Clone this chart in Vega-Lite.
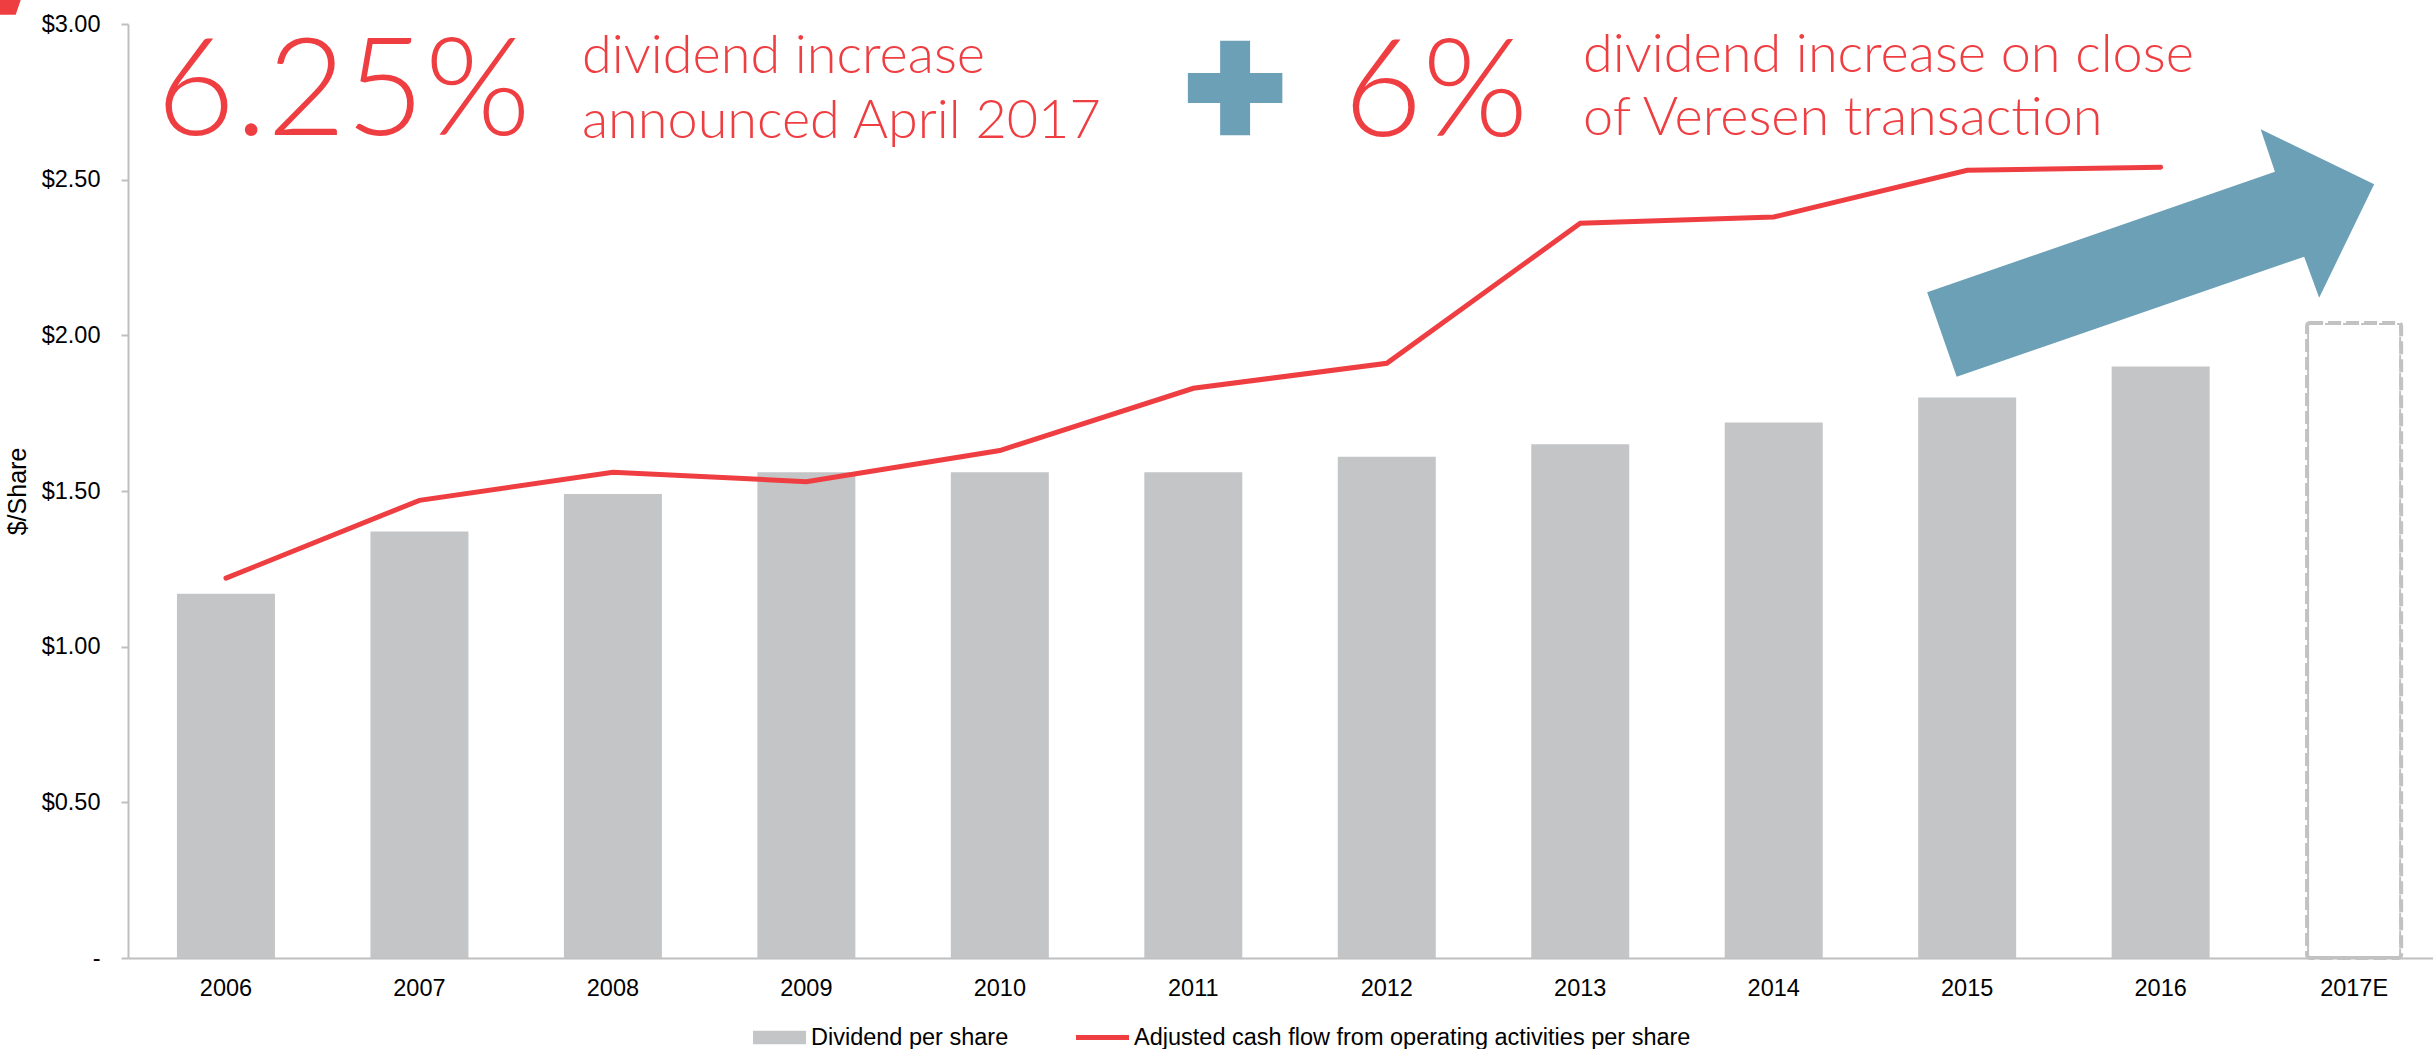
{
  "$schema": "https://vega.github.io/schema/vega-lite/v6.json",
  "width": 2305,
  "height": 934,
  "autosize": {"type": "none"},
  "padding": {"left": 128, "top": 24, "right": 0, "bottom": 91},
  "background": "white",
  "config": {"view": {"stroke": null}, "font": "Liberation Sans"},
  "datasets": {
    "annual": [
      {"period": "2006", "dividend": 1.17, "cashflow": 1.22},
      {"period": "2007", "dividend": 1.37, "cashflow": 1.47},
      {"period": "2008", "dividend": 1.49, "cashflow": 1.56},
      {"period": "2009", "dividend": 1.56, "cashflow": 1.53},
      {"period": "2010", "dividend": 1.56, "cashflow": 1.63},
      {"period": "2011", "dividend": 1.56, "cashflow": 1.83},
      {"period": "2012", "dividend": 1.61, "cashflow": 1.91},
      {"period": "2013", "dividend": 1.65, "cashflow": 2.36},
      {"period": "2014", "dividend": 1.72, "cashflow": 2.38},
      {"period": "2015", "dividend": 1.80, "cashflow": 2.53},
      {"period": "2016", "dividend": 1.90, "cashflow": 2.54},
      {"period": "2017E", "dividend": 2.04, "cashflow": null}
    ],
    "headline": [
      {"note": "6.25%", "at": 2005.640, "level": 2.6435},
      {"note": "6%", "at": 2011.776, "level": 2.640}
    ],
    "caption": [
      {"note": "dividend increase", "at": 2007.840, "level": 2.8416},
      {"note": "announced April 2017", "at": 2007.840, "level": 2.6329},
      {"note": "dividend increase on close", "at": 2013.014, "level": 2.8468},
      {"note": "of Veresen transaction", "at": 2013.014, "level": 2.6425}
    ],
    "plus": [{"at": 2011.216, "level": 2.7944}],
    "arrow": [{"at": 2016.0, "level": 2.2606}],
    "corner": [{"at": 2004.832, "level": 3.0535}]
  },
  "layer": [
    {
      "data": {"name": "annual"},
      "encoding": {
        "x": {
          "field": "period",
          "type": "ordinal",
          "sort": null,
          "scale": {"paddingInner": 0.4935, "paddingOuter": 0.2038, "align": 0.621},
          "axis": {
            "title": null,
            "labelAngle": 0,
            "ticks": false,
            "tickSize": 0,
            "labelPadding": 18,
            "labelFont": "Liberation Sans",
            "labelFontSize": 23.5,
            "labelColor": "#000000",
            "domainColor": "#BFBFBF",
            "domainWidth": 2
          }
        }
      },
      "layer": [
        {
          "transform": [{"filter": "datum.period !== '2017E'"}],
          "mark": {"type": "bar"},
          "encoding": {
            "y": {
              "field": "dividend",
              "type": "quantitative",
              "scale": {"domain": [0, 3], "nice": false},
              "axis": {
                "title": "$/Share",
                "titleFont": "Liberation Sans",
                "titleFontSize": 25,
                "titleFontWeight": "normal",
                "titleColor": "#000000",
                "titlePadding": 11,
                "values": [0, 0.5, 1, 1.5, 2, 2.5, 3],
                "labelExpr": "datum.value === 0 ? '-' : '$' + format(datum.value, '.2f')",
                "labelFont": "Liberation Sans",
                "labelFontSize": 23.5,
                "labelColor": "#000000",
                "labelPadding": 21,
                "tickSize": 7,
                "tickColor": "#BFBFBF",
                "tickWidth": 2,
                "domainColor": "#BFBFBF",
                "domainWidth": 2,
                "grid": false
              }
            },
            "color": {
              "datum": "Dividend per share",
              "type": "nominal",
              "scale": {
                "domain": ["Dividend per share", "Adjusted cash flow from operating activities per share"],
                "range": ["#C4C5C7", "#EF3E42"]
              },
              "legend": {
                "orient": "none",
                "legendX": 625,
                "legendY": 987,
                "direction": "horizontal",
                "title": null,
                "padding": 0,
                "symbolSize": 2809,
                "labelFont": "Liberation Sans",
                "labelFontSize": 23.5,
                "labelColor": "#000000",
                "labelOffset": 5,
                "labelLimit": 0,
                "columnPadding": 67,
                "encode": {
                  "symbols": {
                    "update": {
                      "shape": {"signal": "datum.value === 'Dividend per share' ? 'M-1,-0.257H1V0.257H-1Z' : 'M-1,-0.095H1V0.095H-1Z'"},
                      "fill": {"scale": "color", "field": "value"},
                      "stroke": {"value": "transparent"},
                      "strokeWidth": {"value": 0},
                      "opacity": {"value": 1}
                    }
                  }
                }
              }
            }
          }
        },
        {
          "transform": [{"filter": "datum.period === '2017E'"}],
          "mark": {
            "type": "bar",
            "fill": "white",
            "fillOpacity": 0,
            "stroke": "#C2C2C2",
            "strokeWidth": 4,
            "strokeDash": [13, 5],
            "cornerRadius": 3,
            "width": {"band": 0.96}
          },
          "encoding": {
            "y": {"field": "dividend", "type": "quantitative", "scale": {"domain": [0, 3], "nice": false}}
          }
        },
        {
          "mark": {"type": "line", "strokeWidth": 5, "strokeCap": "round"},
          "encoding": {
            "y": {"field": "cashflow", "type": "quantitative", "scale": {"domain": [0, 3], "nice": false}},
            "color": {"datum": "Adjusted cash flow from operating activities per share", "type": "nominal"}
          }
        }
      ]
    },
    {
      "encoding": {
        "x": {
          "field": "at",
          "type": "quantitative",
          "scale": {"domain": [2005.4936, 2017.4076], "nice": false, "zero": false},
          "axis": null
        },
        "y": {"field": "level", "type": "quantitative", "scale": {"domain": [0, 3], "nice": false}}
      },
      "layer": [
        {
          "data": {"name": "headline"},
          "mark": {"type": "text", "align": "left", "baseline": "alphabetic", "font": "Lato", "fontWeight": 300, "fontSize": 136, "color": "#EF3E42"},
          "encoding": {"text": {"field": "note"}}
        },
        {
          "data": {"name": "caption"},
          "mark": {"type": "text", "align": "left", "baseline": "alphabetic", "font": "Lato", "fontWeight": 300, "fontSize": 54, "color": "#EF3E42"},
          "encoding": {"text": {"field": "note"}}
        },
        {
          "data": {"name": "plus"},
          "mark": {
            "type": "point",
            "shape": "M-1,-0.317H-0.317V-1H0.317V-0.317H1V0.317H0.317V1H-0.317V0.317H-1Z",
            "filled": true,
            "size": 8930,
            "color": "#6CA0B6",
            "opacity": 1,
            "strokeWidth": 0
          }
        },
        {
          "data": {"name": "arrow"},
          "mark": {
            "type": "point",
            "shape": "M-0.934,0.152L0.457,-0.33L0.4,-0.5L0.854,-0.28L0.634,0.174L0.574,0.01L-0.816,0.49Z",
            "filled": true,
            "size": 250000,
            "color": "#6CA0B6",
            "opacity": 1,
            "strokeWidth": 0
          }
        },
        {
          "data": {"name": "corner"},
          "mark": {
            "type": "point",
            "shape": "M-0.952,-0.35L0.986,-0.35L0.748,0.35L-0.952,0.35Z",
            "filled": true,
            "size": 1764,
            "color": "#EF3E42",
            "opacity": 1,
            "strokeWidth": 0
          }
        }
      ]
    }
  ],
  "resolve": {"scale": {"x": "independent"}, "axis": {"x": "independent"}}
}
